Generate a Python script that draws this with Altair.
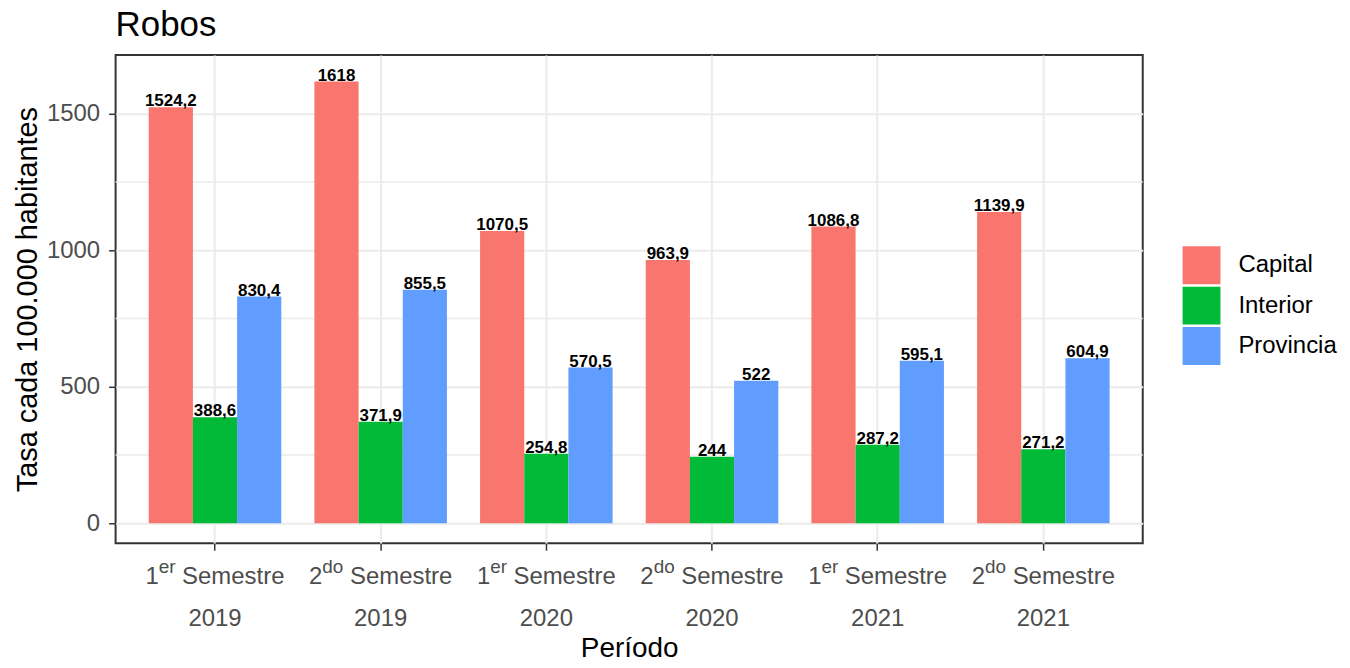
import altair as alt
import pandas as pd

# ---------------- data ----------------
periodos = ["1er Semestre 2019", "2do Semestre 2019", "1er Semestre 2020",
            "2do Semestre 2020", "1er Semestre 2021", "2do Semestre 2021"]
semestre_num = ["1", "2", "1", "2", "1", "2"]
semestre_sup = ["er", "do", "er", "do", "er", "do"]
anios = ["2019", "2019", "2020", "2020", "2021", "2021"]
regiones = ["Capital", "Interior", "Provincia"]
capital = [1524.2, 1618, 1070.5, 963.9, 1086.8, 1139.9]
interior = [388.6, 371.9, 254.8, 244, 287.2, 271.2]
provincia = [830.4, 855.5, 570.5, 522, 595.1, 604.9]
colores = ["#F8766D", "#00BA38", "#619CFF"]
y_ticks = [0, 500, 1000, 1500]
y_minor = [250, 750, 1250]

rows = []
for reg, vals in zip(regiones, [capital, interior, provincia]):
    for p, v in zip(periodos, vals):
        rows.append({"periodo": p, "region": reg, "valor": v,
                     "label": f"{v:g}".replace(".", ",")})
df = pd.DataFrame(rows)

lab_df = pd.DataFrame({"periodo": periodos, "num": semestre_num,
                       "sup": semestre_sup, "anio": anios,
                       "palabra": ["Semestre"] * len(periodos)})

# ---------------- style ----------------
W, H = 1031, 490
FONT = "Liberation Sans"
GRID = "#EBEBEB"
TICKC = "#333333"
LABC = "#4D4D4D"

x_scale = alt.Scale(domain=periodos, paddingInner=0.2, paddingOuter=0.2)
y_scale = alt.Scale(domain=[-73, 1715], nice=False, zero=False)
xo_scale = alt.Scale(domain=regiones, paddingInner=0, paddingOuter=0)

x_axis = alt.Axis(title="Período", labels=False, bandPosition=0.5, tickSize=7,
                  tickColor=TICKC, tickWidth=1.5, grid=True, gridColor=GRID,
                  gridWidth=2, domain=False, titleFont=FONT, titleFontSize=28,
                  titleFontWeight="normal", titleColor="black", titleY=114,
                  titleBaseline="alphabetic")
y_axis = alt.Axis(title="Tasa cada 100.000 habitantes", values=y_ticks,
                  format="d",
                  tickSize=7, tickColor=TICKC, tickWidth=1.5, grid=True,
                  gridColor=GRID, gridWidth=2, domain=False, labelFont=FONT,
                  labelFontSize=24, labelColor=LABC, labelPadding=9,
                  titleFont=FONT, titleFontSize=29, titleFontWeight="normal",
                  titleColor="black", titleAngle=270, titleX=-79, titleY=H / 2,
                  titleAlign="center", titleBaseline="alphabetic")

minor = alt.Chart(pd.DataFrame({"valor": y_minor})).mark_rule(
    color=GRID, strokeWidth=1.5
).encode(y=alt.Y("valor:Q", scale=y_scale, axis=y_axis))

base = alt.Chart(df).encode(
    x=alt.X("periodo:N", scale=x_scale, sort=periodos, axis=x_axis),
    xOffset=alt.XOffset("region:N", scale=xo_scale, sort=regiones),
    y=alt.Y("valor:Q", scale=y_scale, axis=y_axis, stack=None),
)

bars = base.mark_bar().encode(
    color=alt.Color("region:N", scale=alt.Scale(domain=regiones, range=colores),
                    legend=alt.Legend(title=None, orient="none", legendX=1071,
                                      legendY=192, symbolType="square",
                                      symbolSize=1444, symbolStrokeWidth=0,
                                      symbolOpacity=1, labelFont=FONT,
                                      labelFontSize=24, labelColor="black",
                                      labelOffset=18, rowPadding=2.5,
                                      padding=0))
)

bar_text = base.mark_text(
    font=FONT, fontWeight="bold", fontSize=17, baseline="alphabetic", dy=-1,
    color="black"
).encode(text="label:N")

# x tick labels drawn as text (with superscripts)
xl = alt.X("periodo:N", scale=x_scale, sort=periodos, axis=x_axis)
label_layers = []
for tipo, supw in [("er", 16.7), ("do", 21.1)]:
    total = 13.3 + supw + 6.7 + 102.7
    start = -total / 2
    sub = alt.Chart(lab_df).transform_filter(alt.datum.sup == tipo)
    label_layers.append(sub.mark_text(
        font=FONT, fontSize=24, color=LABC, align="left",
        baseline="alphabetic", dx=start
    ).encode(x=xl, y=alt.value(531), text="num:N"))
    label_layers.append(sub.mark_text(
        font=FONT, fontSize=19, color=LABC, align="left",
        baseline="alphabetic", dx=start + 13.3
    ).encode(x=xl, y=alt.value(520), text="sup:N"))
    label_layers.append(sub.mark_text(
        font=FONT, fontSize=24, color=LABC, align="left",
        baseline="alphabetic", dx=start + 13.3 + supw + 6.7
    ).encode(x=xl, y=alt.value(531), text="palabra:N"))

year_layer = alt.Chart(lab_df).mark_text(
    font=FONT, fontSize=24, color=LABC, align="center", baseline="alphabetic"
).encode(x=xl, y=alt.value(573), text="anio:N")

chart = alt.layer(minor, bars, bar_text, *label_layers, year_layer).properties(
    width=W, height=H,
    background="white",
    title=alt.TitleParams("Robos", anchor="start", frame="group", font=FONT,
                          fontSize=35, fontWeight="normal", color="black",
                          offset=12),
    autosize=alt.AutoSizeParams(type="none"),
    padding={"left": 108, "top": 46, "right": 200, "bottom": 114},
).configure_view(stroke=TICKC, strokeWidth=2)

chart.save("out.html", embed_options={"renderer": "svg", "actions": False})
